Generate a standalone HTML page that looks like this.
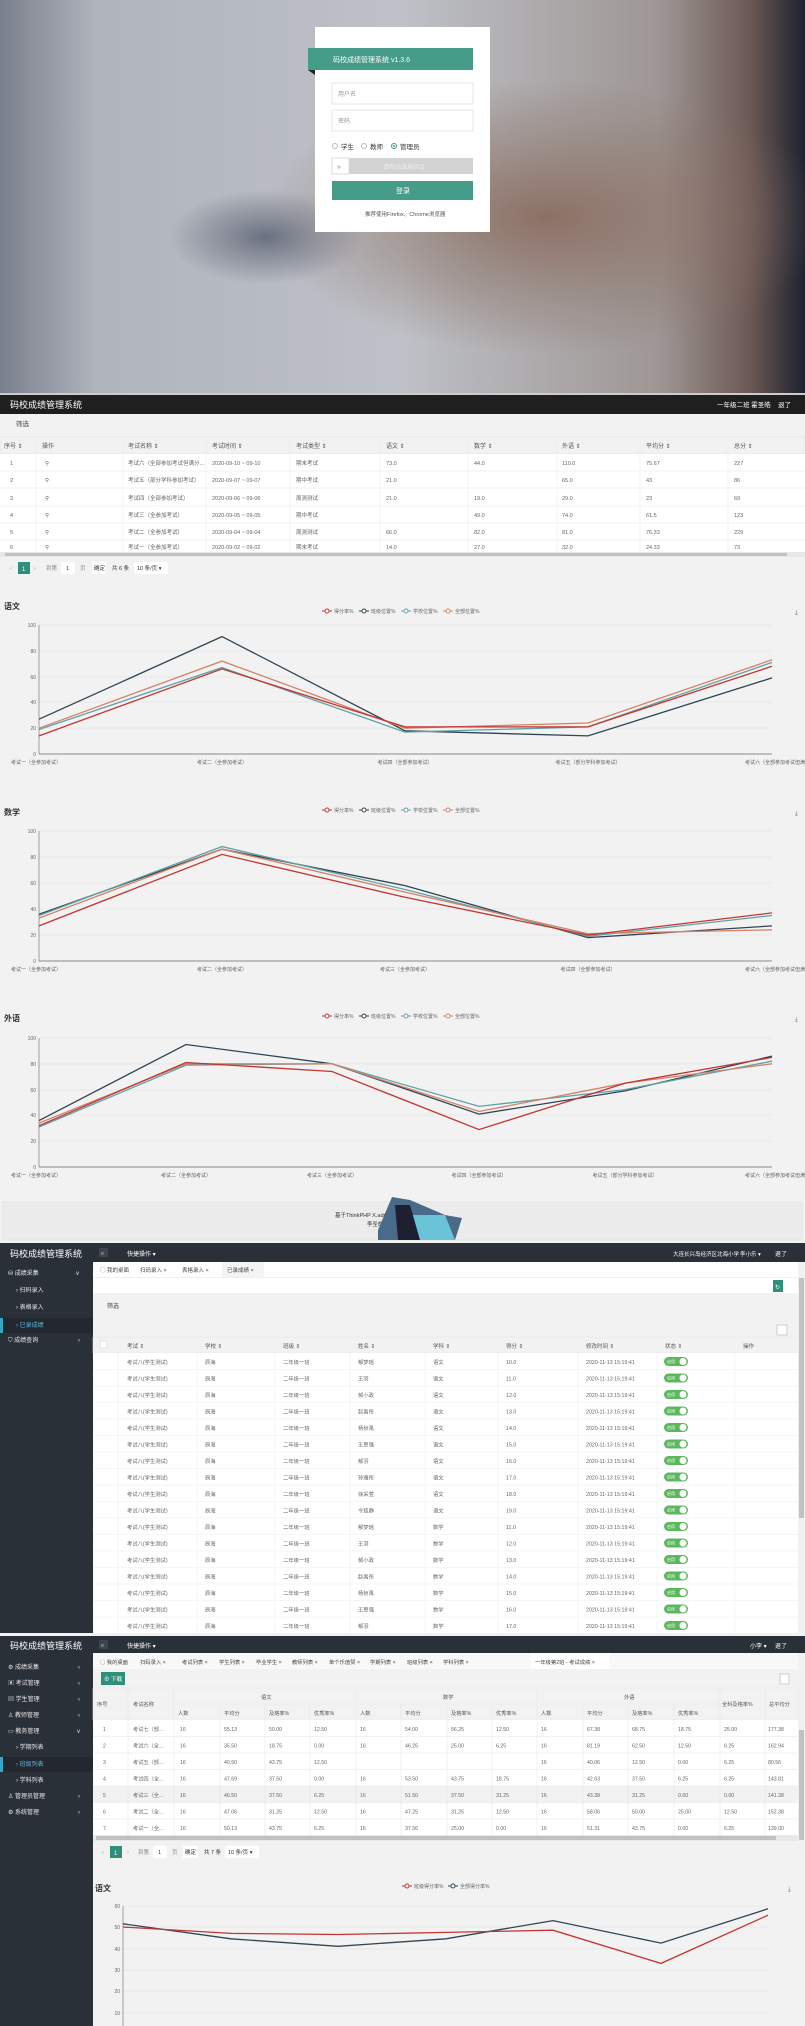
<!DOCTYPE html>
<html><head><meta charset="utf-8"><style>
html,body{margin:0;padding:0;width:805px;height:2026px;overflow:hidden;background:#f2f2f2}
svg{display:block}
text{font-family:"Liberation Sans","Noto Sans CJK SC",sans-serif}
</style></head><body>
<svg width="805" height="2026" viewBox="0 0 805 2026" xmlns="http://www.w3.org/2000/svg">
<defs>
<radialGradient id="g1" cx="0.68" cy="0.55" r="0.35"><stop offset="0" stop-color="#8f7468"/><stop offset="1" stop-color="#8f7468" stop-opacity="0"/></radialGradient>
<radialGradient id="g2" cx="0.33" cy="0.6" r="0.12"><stop offset="0" stop-color="#6e7484"/><stop offset="1" stop-color="#6e7484" stop-opacity="0"/></radialGradient>
<linearGradient id="g3" x1="0" x2="1"><stop offset="0" stop-color="#7d8290"/><stop offset="0.12" stop-color="#b4b8c0"/><stop offset="0.5" stop-color="#c2c5cb"/><stop offset="0.82" stop-color="#a29a98"/><stop offset="0.93" stop-color="#705c58"/><stop offset="1" stop-color="#1e2330"/></linearGradient>
</defs>
<!-- LOGIN -->
<rect x="0" y="0" width="805" height="395" fill="url(#g3)"/>
<rect x="0" y="0" width="805" height="395" fill="url(#g1)"/>
<rect x="0" y="0" width="805" height="395" fill="url(#g2)"/>
<rect x="0" y="0" width="805" height="395" fill="#000" opacity="0.02"/>
<rect x="315" y="27" width="175" height="205" fill="#fff"/>
<rect x="308" y="48" width="165" height="22" fill="#459c88"/>
<polygon points="308,70 315,70 315,75" fill="#222"/>
<text x="333" y="62" font-size="7" fill="#fff">码校成绩管理系统 v1.3.6</text>
<rect x="332" y="83" width="141" height="21" fill="#fff" stroke="#e6e6e6"/>
<text x="338" y="96" font-size="6" fill="#999">用户名</text>
<rect x="332" y="110" width="141" height="21" fill="#fff" stroke="#e6e6e6"/>
<text x="338" y="123" font-size="6" fill="#999">密码</text>
<circle cx="335" cy="146" r="2.5" fill="none" stroke="#bbb"/><text x="341" y="149" font-size="6.5" fill="#333">学生</text>
<circle cx="364" cy="146" r="2.5" fill="none" stroke="#bbb"/><text x="370" y="149" font-size="6.5" fill="#333">教师</text>
<circle cx="394" cy="146" r="2.5" fill="none" stroke="#459c88"/><circle cx="394" cy="146" r="1" fill="#459c88"/><text x="400" y="149" font-size="6.5" fill="#333">管理员</text>
<rect x="332" y="158" width="141" height="16" fill="#d2d2d2"/>
<rect x="332" y="158" width="17" height="16" fill="#fff" stroke="#ddd"/>
<text x="337" y="169" font-size="7" fill="#888">»</text>
<text x="383" y="169" font-size="6" fill="#eee">请拖动滑块验证</text>
<rect x="332" y="181" width="141" height="19" fill="#459c88"/>
<text x="396" y="193" font-size="7" fill="#fff">登录</text>
<text x="365" y="216" font-size="5.5" fill="#555">推荐使用Firefox、Chrome浏览器</text>

<!-- SECTION 2 -->
<rect x="0" y="393" width="805" height="2" fill="#ccc"/>
<rect x="0" y="395" width="805" height="19" fill="#1f1f1f"/>
<text x="10" y="408" font-size="9" fill="#fff">码校成绩管理系统</text>
<text x="717" y="407" font-size="6.5" fill="#fff">一年级二班 霍圣皓</text>
<text x="778" y="407" font-size="6.5" fill="#fff">退了</text>
<rect x="0" y="414" width="805" height="18" fill="#f2f2f2"/>
<text x="16" y="426" font-size="6.5" fill="#444">筛选</text>
<rect x="0" y="437" width="805" height="17" fill="#f2f2f2" stroke="#e6e6e6"/>
<g font-size="6" fill="#555">
<text x="4" y="448">序号 ⇕</text><text x="42" y="448">操作</text><text x="128" y="448">考试名称 ⇕</text><text x="212" y="448">考试时间 ⇕</text><text x="296" y="448">考试类型 ⇕</text><text x="386" y="448">语文 ⇕</text><text x="474" y="448">数学 ⇕</text><text x="562" y="448">外语 ⇕</text><text x="646" y="448">平均分 ⇕</text><text x="734" y="448">总分 ⇕</text>
</g>
<rect x="0" y="454" width="805" height="98" fill="#fff"/>
<g stroke="#eee" stroke-width="0.7">
<line x1="0" y1="471" x2="805" y2="471"/><line x1="0" y1="488" x2="805" y2="488"/><line x1="0" y1="506" x2="805" y2="506"/><line x1="0" y1="523" x2="805" y2="523"/><line x1="0" y1="540" x2="805" y2="540"/>
<line x1="36" y1="437" x2="36" y2="552"/><line x1="123" y1="437" x2="123" y2="552"/><line x1="206" y1="437" x2="206" y2="552"/><line x1="290" y1="437" x2="290" y2="552"/><line x1="380" y1="437" x2="380" y2="552"/><line x1="468" y1="437" x2="468" y2="552"/><line x1="557" y1="437" x2="557" y2="552"/><line x1="640" y1="437" x2="640" y2="552"/><line x1="728" y1="437" x2="728" y2="552"/>
</g>
<g font-size="5.5" fill="#666">
<text x="10" y="465">1</text><text x="45" y="465">⚲</text><text x="128" y="465">考试六（全部参加考试但满分...</text><text x="212" y="465">2020-09-10 ~ 09-10</text><text x="296" y="465">期末考试</text><text x="386" y="465">73.0</text><text x="474" y="465">44.0</text><text x="562" y="465">110.0</text><text x="646" y="465">75.67</text><text x="734" y="465">227</text>
<text x="10" y="482">2</text><text x="45" y="482">⚲</text><text x="128" y="482">考试五（部分学科参加考试）</text><text x="212" y="482">2020-09-07 ~ 09-07</text><text x="296" y="482">期中考试</text><text x="386" y="482">21.0</text><text x="562" y="482">65.0</text><text x="646" y="482">43</text><text x="734" y="482">86</text>
<text x="10" y="500">3</text><text x="45" y="500">⚲</text><text x="128" y="500">考试四（全部参加考试）</text><text x="212" y="500">2020-09-06 ~ 09-06</text><text x="296" y="500">周测测试</text><text x="386" y="500">21.0</text><text x="474" y="500">19.0</text><text x="562" y="500">29.0</text><text x="646" y="500">23</text><text x="734" y="500">69</text>
<text x="10" y="517">4</text><text x="45" y="517">⚲</text><text x="128" y="517">考试三（全参加考试）</text><text x="212" y="517">2020-09-05 ~ 09-05</text><text x="296" y="517">期中考试</text><text x="474" y="517">49.0</text><text x="562" y="517">74.0</text><text x="646" y="517">61.5</text><text x="734" y="517">123</text>
<text x="10" y="534">5</text><text x="45" y="534">⚲</text><text x="128" y="534">考试二（全参加考试）</text><text x="212" y="534">2020-09-04 ~ 09-04</text><text x="296" y="534">周测测试</text><text x="386" y="534">66.0</text><text x="474" y="534">82.0</text><text x="562" y="534">81.0</text><text x="646" y="534">76.33</text><text x="734" y="534">229</text>
<text x="10" y="549">6</text><text x="45" y="549">⚲</text><text x="128" y="549">考试一（全参加考试）</text><text x="212" y="549">2020-09-02 ~ 09-02</text><text x="296" y="549">期末考试</text><text x="386" y="549">14.0</text><text x="474" y="549">27.0</text><text x="562" y="549">32.0</text><text x="646" y="549">24.33</text><text x="734" y="549">73</text>
</g>
<rect x="0" y="552" width="805" height="5" fill="#e8e8e8"/><rect x="5" y="553" width="782" height="3" fill="#c1c1c1"/>
<rect x="18" y="562" width="12" height="12" fill="#2f8f7a"/><text x="22" y="571" font-size="6" fill="#fff">1</text>
<g font-size="5.5" fill="#888"><text x="10" y="570">‹</text><text x="34" y="570">›</text><text x="46" y="570">到第</text><rect x="61" y="562" width="14" height="12" fill="#fff"/><text x="66" y="570" fill="#333">1</text><text x="80" y="570">页</text><rect x="92" y="562" width="14" height="12" fill="#fff"/><text x="94" y="570" fill="#333">确定</text><text x="112" y="570" fill="#333">共 6 条</text><rect x="134" y="562" width="34" height="12" fill="#fff"/><text x="137" y="570" fill="#333">10 条/页 ▾</text></g>

<!-- CHART 1 -->
<g font-size="6" fill="#666">
<text x="4" y="609" font-size="8" font-weight="bold" fill="#333">语文</text>
<g transform="translate(322,613)"><line x1="0" y1="-2" x2="10" y2="-2" stroke="#c23531"/><circle cx="5" cy="-2" r="2" fill="#fff" stroke="#c23531"/><text x="12" y="0" font-size="5">得分率%</text>
<line x1="37" y1="-2" x2="47" y2="-2" stroke="#2f4554"/><circle cx="42" cy="-2" r="2" fill="#fff" stroke="#2f4554"/><text x="49" y="0" font-size="5">班级位置%</text>
<line x1="79" y1="-2" x2="89" y2="-2" stroke="#61a0a8"/><circle cx="84" cy="-2" r="2" fill="#fff" stroke="#61a0a8"/><text x="91" y="0" font-size="5">学校位置%</text>
<line x1="121" y1="-2" x2="131" y2="-2" stroke="#d48265"/><circle cx="126" cy="-2" r="2" fill="#fff" stroke="#d48265"/><text x="133" y="0" font-size="5">全部位置%</text></g>
<text x="795" y="614">⤓</text>
<g stroke="#ddd" stroke-width="0.6"><line x1="39" y1="625" x2="772" y2="625"/><line x1="39" y1="651" x2="772" y2="651"/><line x1="39" y1="677" x2="772" y2="677"/><line x1="39" y1="702" x2="772" y2="702"/><line x1="39" y1="728" x2="772" y2="728"/></g>
<line x1="39" y1="625" x2="39" y2="754" stroke="#666" stroke-width="0.6"/><line x1="39" y1="754" x2="772" y2="754" stroke="#666" stroke-width="0.8"/>
<g font-size="5" text-anchor="end"><text x="36" y="627">100</text><text x="36" y="653">80</text><text x="36" y="679">60</text><text x="36" y="704">40</text><text x="36" y="730">20</text><text x="36" y="756">0</text></g>
<g font-size="5" text-anchor="middle"><text x="36" y="764">考试一（全参加考试）</text><text x="222" y="764">考试二（全参加考试）</text><text x="405" y="764">考试四（全部参加考试）</text><text x="588" y="764">考试五（部分学科参加考试）</text><text x="780" y="764">考试六（全部参加考试但满分不</text></g>
<g fill="none" stroke-width="1.3">
<polyline stroke="#2f4554" points="39,719.2 222,636.6 405,730.8 588,735.9 772,677.9"/>
<polyline stroke="#61a0a8" points="39,729.5 222,667.6 405,732.1 588,726.9 772,662.4"/>
<polyline stroke="#d48265" points="39,728.2 222,661.1 405,728.2 588,723 772,659.8"/>
<polyline stroke="#c23531" points="39,735.9 222,668.9 405,726.9 588,726.9 772,666.3"/>
</g>

<!-- CHART 2 -->
<text x="4" y="815" font-size="8" font-weight="bold" fill="#333">数学</text>
<g transform="translate(322,812)"><line x1="0" y1="-2" x2="10" y2="-2" stroke="#c23531"/><circle cx="5" cy="-2" r="2" fill="#fff" stroke="#c23531"/><text x="12" y="0" font-size="5">得分率%</text>
<line x1="37" y1="-2" x2="47" y2="-2" stroke="#2f4554"/><circle cx="42" cy="-2" r="2" fill="#fff" stroke="#2f4554"/><text x="49" y="0" font-size="5">班级位置%</text>
<line x1="79" y1="-2" x2="89" y2="-2" stroke="#61a0a8"/><circle cx="84" cy="-2" r="2" fill="#fff" stroke="#61a0a8"/><text x="91" y="0" font-size="5">学校位置%</text>
<line x1="121" y1="-2" x2="131" y2="-2" stroke="#d48265"/><circle cx="126" cy="-2" r="2" fill="#fff" stroke="#d48265"/><text x="133" y="0" font-size="5">全部位置%</text></g>
<text x="795" y="815">⤓</text>
<g stroke="#ddd" stroke-width="0.6"><line x1="39" y1="831" x2="772" y2="831"/><line x1="39" y1="857" x2="772" y2="857"/><line x1="39" y1="883" x2="772" y2="883"/><line x1="39" y1="909" x2="772" y2="909"/><line x1="39" y1="935" x2="772" y2="935"/></g>
<line x1="39" y1="831" x2="39" y2="961" stroke="#666" stroke-width="0.6"/><line x1="39" y1="961" x2="772" y2="961" stroke="#666" stroke-width="0.8"/>
<g font-size="5" text-anchor="end"><text x="36" y="833">100</text><text x="36" y="859">80</text><text x="36" y="885">60</text><text x="36" y="911">40</text><text x="36" y="937">20</text><text x="36" y="963">0</text></g>
<g font-size="5" text-anchor="middle"><text x="36" y="971">考试一（全参加考试）</text><text x="222" y="971">考试二（全参加考试）</text><text x="405" y="971">考试三（全参加考试）</text><text x="588" y="971">考试四（全部参加考试）</text><text x="780" y="971">考试六（全部参加考试但满分不</text></g>
<g fill="none" stroke-width="1.3">
<polyline stroke="#2f4554" points="39,914.2 222,849.2 405,885.6 588,937.6 772,925.9"/>
<polyline stroke="#61a0a8" points="39,915.5 222,846.6 405,889.5 588,936.3 772,915.5"/>
<polyline stroke="#d48265" points="39,918.1 222,849.2 405,892.1 588,933.7 772,929.8"/>
<polyline stroke="#c23531" points="39,925.9 222,854.4 405,897.3 588,935 772,912.9"/>
</g>

<!-- CHART 3 -->
<text x="4" y="1021" font-size="8" font-weight="bold" fill="#333">外语</text>
<g transform="translate(322,1018)"><line x1="0" y1="-2" x2="10" y2="-2" stroke="#c23531"/><circle cx="5" cy="-2" r="2" fill="#fff" stroke="#c23531"/><text x="12" y="0" font-size="5">得分率%</text>
<line x1="37" y1="-2" x2="47" y2="-2" stroke="#2f4554"/><circle cx="42" cy="-2" r="2" fill="#fff" stroke="#2f4554"/><text x="49" y="0" font-size="5">班级位置%</text>
<line x1="79" y1="-2" x2="89" y2="-2" stroke="#61a0a8"/><circle cx="84" cy="-2" r="2" fill="#fff" stroke="#61a0a8"/><text x="91" y="0" font-size="5">学校位置%</text>
<line x1="121" y1="-2" x2="131" y2="-2" stroke="#d48265"/><circle cx="126" cy="-2" r="2" fill="#fff" stroke="#d48265"/><text x="133" y="0" font-size="5">全部位置%</text></g>
<text x="795" y="1021">⤓</text>
<g stroke="#ddd" stroke-width="0.6"><line x1="39" y1="1038" x2="772" y2="1038"/><line x1="39" y1="1064" x2="772" y2="1064"/><line x1="39" y1="1090" x2="772" y2="1090"/><line x1="39" y1="1115" x2="772" y2="1115"/><line x1="39" y1="1141" x2="772" y2="1141"/></g>
<line x1="39" y1="1038" x2="39" y2="1167" stroke="#666" stroke-width="0.6"/><line x1="39" y1="1167" x2="772" y2="1167" stroke="#666" stroke-width="0.8"/>
<g font-size="5" text-anchor="end"><text x="36" y="1040">100</text><text x="36" y="1066">80</text><text x="36" y="1092">60</text><text x="36" y="1117">40</text><text x="36" y="1143">20</text><text x="36" y="1169">0</text></g>
<g font-size="5" text-anchor="middle"><text x="36" y="1177">考试一（全参加考试）</text><text x="186" y="1177">考试二（全参加考试）</text><text x="332" y="1177">考试三（全参加考试）</text><text x="479" y="1177">考试四（全部参加考试）</text><text x="625" y="1177">考试五（部分学科参加考试）</text><text x="780" y="1177">考试六（全部参加考试但满分不</text></g>
<g fill="none" stroke-width="1.3">
<polyline stroke="#2f4554" points="39,1120.6 186,1044.5 332,1063.8 479,1114.1 625,1090.9 772,1056.1"/>
<polyline stroke="#61a0a8" points="39,1127 186,1065.1 332,1063.8 479,1106.4 625,1089.6 772,1061.2"/>
<polyline stroke="#d48265" points="39,1123.1 186,1063.8 332,1063.8 479,1111.5 625,1083.2 772,1063.8"/>
<polyline stroke="#c23531" points="39,1125.7 186,1062.5 332,1071.5 479,1129.6 625,1083.2 772,1057.4"/>
</g>
</g>
<rect x="3" y="1202" width="799" height="38" fill="#ececec" stroke="#e4e4e4"/>
<text x="335" y="1217" font-size="5.5" fill="#333">基于ThinkPHP X.admin开发 感谢开源作者</text>
<text x="367" y="1226" font-size="5.5" fill="#333">李圣皓</text>
<polygon points="378,1230 392,1197 410,1200 445,1215 462,1218 455,1240 378,1240" fill="#4a6a8a"/>
<polygon points="410,1215 445,1215 455,1240 420,1240" fill="#6bc3d8"/>
<polygon points="395,1205 410,1205 420,1240 398,1240" fill="#1c2030"/>

<!-- SECTION 3 -->
<rect x="0" y="1243" width="805" height="19" fill="#2a3038"/>
<text x="10" y="1257" font-size="9" fill="#fff">码校成绩管理系统</text>
<rect x="99" y="1248" width="9" height="9" fill="#3d444e"/><text x="101" y="1255" font-size="5" fill="#ccc">≡</text>
<text x="127" y="1256" font-size="6" fill="#fff">快捷操作 ▾</text>
<text x="673" y="1256" font-size="5.5" fill="#fff">大连长兴岛经济区北海小学</text><text x="740" y="1256" font-size="5.5" fill="#fff">李小乐 ▾</text><text x="775" y="1256" font-size="6" fill="#fff">退了</text>
<rect x="0" y="1262" width="93" height="371" fill="#2a3038"/>
<g font-size="6" fill="#e8e8e8">
<text x="8" y="1275">⛁  成绩采集</text><text x="76" y="1275">v</text>
<text x="16" y="1292">›  扫码录入</text><text x="16" y="1309">›  表格录入</text>
<rect x="0" y="1318" width="93" height="15" fill="#232830"/><rect x="0" y="1318" width="3" height="15" fill="#35a8c8"/>
<text x="16" y="1327" fill="#5fb8d8">›  已录成绩</text>
<text x="8" y="1342">⛉  成绩查询</text><text x="78" y="1342">‹</text>
</g>
<rect x="93" y="1262" width="705" height="15" fill="#fff"/>
<rect x="222" y="1262" width="42" height="15" fill="#f4f4f4"/>
<g font-size="5.5" fill="#444"><text x="100" y="1272">◯ 我的桌面</text><text x="140" y="1272">扫码录入 ×</text><text x="182" y="1272">表格录入 ×</text><text x="227" y="1272">已录成绩 ×</text></g>
<rect x="93" y="1277" width="705" height="16" fill="#fff"/>
<rect x="93" y="1277" width="705" height="1" fill="#f0f0f0"/>
<rect x="773" y="1280" width="10" height="12" fill="#2f8f7a"/><text x="775" y="1289" font-size="6" fill="#fff">↻</text>
<rect x="93" y="1293" width="705" height="44" fill="#f2f2f2"/>
<text x="107" y="1308" font-size="6" fill="#444">筛选</text>
<rect x="777" y="1325" width="10" height="10" fill="#fff" stroke="#ccc"/>
<rect x="93" y="1337" width="705" height="16" fill="#f2f2f2" stroke="#e6e6e6" stroke-width="0.5"/>
<rect x="798" y="1262" width="7" height="371" fill="#f1f1f1"/><rect x="799" y="1278" width="5" height="240" fill="#c1c1c1"/>
<g font-size="5.5" fill="#555"><rect x="100" y="1341" width="7" height="7" fill="#fff" stroke="#ccc" stroke-width="0.5"/><text x="127" y="1348">考试 ⇕</text><text x="205" y="1348">学校 ⇕</text><text x="283" y="1348">班级 ⇕</text><text x="358" y="1348">姓名 ⇕</text><text x="433" y="1348">学科 ⇕</text><text x="506" y="1348">得分 ⇕</text><text x="586" y="1348">修改时间 ⇕</text><text x="665" y="1348">状态 ⇕</text><text x="743" y="1348">操作</text></g>
<rect x="93" y="1353" width="705" height="280" fill="#fff"/>
<g stroke="#eee" stroke-width="0.6">
<line x1="93" y1="1369.5" x2="798" y2="1369.5"/><line x1="93" y1="1386" x2="798" y2="1386"/><line x1="93" y1="1402.5" x2="798" y2="1402.5"/><line x1="93" y1="1419" x2="798" y2="1419"/><line x1="93" y1="1435.5" x2="798" y2="1435.5"/><line x1="93" y1="1452" x2="798" y2="1452"/><line x1="93" y1="1468.5" x2="798" y2="1468.5"/><line x1="93" y1="1485" x2="798" y2="1485"/><line x1="93" y1="1501.5" x2="798" y2="1501.5"/><line x1="93" y1="1518" x2="798" y2="1518"/><line x1="93" y1="1534.5" x2="798" y2="1534.5"/><line x1="93" y1="1551" x2="798" y2="1551"/><line x1="93" y1="1567.5" x2="798" y2="1567.5"/><line x1="93" y1="1584" x2="798" y2="1584"/><line x1="93" y1="1600.5" x2="798" y2="1600.5"/><line x1="93" y1="1617" x2="798" y2="1617"/>
<line x1="118" y1="1337" x2="118" y2="1633"/><line x1="197" y1="1337" x2="197" y2="1633"/><line x1="275" y1="1337" x2="275" y2="1633"/><line x1="350" y1="1337" x2="350" y2="1633"/><line x1="425" y1="1337" x2="425" y2="1633"/><line x1="498" y1="1337" x2="498" y2="1633"/><line x1="578" y1="1337" x2="578" y2="1633"/><line x1="657" y1="1337" x2="657" y2="1633"/><line x1="735" y1="1337" x2="735" y2="1633"/>
</g>
<g font-size="5.3" fill="#666">
<text y="1364"><tspan x="127">考试八(学生测试)</tspan><tspan x="205">辰海</tspan><tspan x="283">二年级一班</tspan><tspan x="358">郁梦瑶</tspan><tspan x="433">语文</tspan><tspan x="506">10.0</tspan><tspan x="586">2020-11-13 15:19:41</tspan></text>
<text y="1380.5"><tspan x="127">考试八(学生测试)</tspan><tspan x="205">辰海</tspan><tspan x="283">二年级一班</tspan><tspan x="358">王羽</tspan><tspan x="433">语文</tspan><tspan x="506">11.0</tspan><tspan x="586">2020-11-13 15:19:41</tspan></text>
<text y="1397"><tspan x="127">考试八(学生测试)</tspan><tspan x="205">辰海</tspan><tspan x="283">二年级一班</tspan><tspan x="358">郝小政</tspan><tspan x="433">语文</tspan><tspan x="506">12.0</tspan><tspan x="586">2020-11-13 15:19:41</tspan></text>
<text y="1413.5"><tspan x="127">考试八(学生测试)</tspan><tspan x="205">辰海</tspan><tspan x="283">二年级一班</tspan><tspan x="358">赵禹彤</tspan><tspan x="433">语文</tspan><tspan x="506">13.0</tspan><tspan x="586">2020-11-13 15:19:41</tspan></text>
<text y="1430"><tspan x="127">考试八(学生测试)</tspan><tspan x="205">辰海</tspan><tspan x="283">二年级一班</tspan><tspan x="358">杨桢禹</tspan><tspan x="433">语文</tspan><tspan x="506">14.0</tspan><tspan x="586">2020-11-13 15:19:41</tspan></text>
<text y="1446.5"><tspan x="127">考试八(学生测试)</tspan><tspan x="205">辰海</tspan><tspan x="283">二年级一班</tspan><tspan x="358">王思强</tspan><tspan x="433">语文</tspan><tspan x="506">15.0</tspan><tspan x="586">2020-11-13 15:19:41</tspan></text>
<text y="1463"><tspan x="127">考试八(学生测试)</tspan><tspan x="205">辰海</tspan><tspan x="283">二年级一班</tspan><tspan x="358">郁羽</tspan><tspan x="433">语文</tspan><tspan x="506">16.0</tspan><tspan x="586">2020-11-13 15:19:41</tspan></text>
<text y="1479.5"><tspan x="127">考试八(学生测试)</tspan><tspan x="205">辰海</tspan><tspan x="283">二年级一班</tspan><tspan x="358">孙雅彤</tspan><tspan x="433">语文</tspan><tspan x="506">17.0</tspan><tspan x="586">2020-11-13 15:19:41</tspan></text>
<text y="1496"><tspan x="127">考试八(学生测试)</tspan><tspan x="205">辰海</tspan><tspan x="283">二年级一班</tspan><tspan x="358">徐采萱</tspan><tspan x="433">语文</tspan><tspan x="506">18.0</tspan><tspan x="586">2020-11-13 15:19:41</tspan></text>
<text y="1512.5"><tspan x="127">考试八(学生测试)</tspan><tspan x="205">辰海</tspan><tspan x="283">二年级一班</tspan><tspan x="358">令狐静</tspan><tspan x="433">语文</tspan><tspan x="506">19.0</tspan><tspan x="586">2020-11-13 15:19:41</tspan></text>
<text y="1529"><tspan x="127">考试八(学生测试)</tspan><tspan x="205">辰海</tspan><tspan x="283">二年级一班</tspan><tspan x="358">郁梦瑶</tspan><tspan x="433">数学</tspan><tspan x="506">11.0</tspan><tspan x="586">2020-11-13 15:19:41</tspan></text>
<text y="1545.5"><tspan x="127">考试八(学生测试)</tspan><tspan x="205">辰海</tspan><tspan x="283">二年级一班</tspan><tspan x="358">王羽</tspan><tspan x="433">数学</tspan><tspan x="506">12.0</tspan><tspan x="586">2020-11-13 15:19:41</tspan></text>
<text y="1562"><tspan x="127">考试八(学生测试)</tspan><tspan x="205">辰海</tspan><tspan x="283">二年级一班</tspan><tspan x="358">郝小政</tspan><tspan x="433">数学</tspan><tspan x="506">13.0</tspan><tspan x="586">2020-11-13 15:19:41</tspan></text>
<text y="1578.5"><tspan x="127">考试八(学生测试)</tspan><tspan x="205">辰海</tspan><tspan x="283">二年级一班</tspan><tspan x="358">赵禹彤</tspan><tspan x="433">数学</tspan><tspan x="506">14.0</tspan><tspan x="586">2020-11-13 15:19:41</tspan></text>
<text y="1595"><tspan x="127">考试八(学生测试)</tspan><tspan x="205">辰海</tspan><tspan x="283">二年级一班</tspan><tspan x="358">杨桢禹</tspan><tspan x="433">数学</tspan><tspan x="506">15.0</tspan><tspan x="586">2020-11-13 15:19:41</tspan></text>
<text y="1611.5"><tspan x="127">考试八(学生测试)</tspan><tspan x="205">辰海</tspan><tspan x="283">二年级一班</tspan><tspan x="358">王思强</tspan><tspan x="433">数学</tspan><tspan x="506">16.0</tspan><tspan x="586">2020-11-13 15:19:41</tspan></text>
<text y="1628"><tspan x="127">考试八(学生测试)</tspan><tspan x="205">辰海</tspan><tspan x="283">二年级一班</tspan><tspan x="358">郁羽</tspan><tspan x="433">数学</tspan><tspan x="506">17.0</tspan><tspan x="586">2020-11-13 15:19:41</tspan></text>
</g>
<g id="tg">
<g fill="#5cb85c"><rect x="664" y="1357" width="24" height="9" rx="4.5"/><rect x="664" y="1373.5" width="24" height="9" rx="4.5"/><rect x="664" y="1390" width="24" height="9" rx="4.5"/><rect x="664" y="1406.5" width="24" height="9" rx="4.5"/><rect x="664" y="1423" width="24" height="9" rx="4.5"/><rect x="664" y="1439.5" width="24" height="9" rx="4.5"/><rect x="664" y="1456" width="24" height="9" rx="4.5"/><rect x="664" y="1472.5" width="24" height="9" rx="4.5"/><rect x="664" y="1489" width="24" height="9" rx="4.5"/><rect x="664" y="1505.5" width="24" height="9" rx="4.5"/><rect x="664" y="1522" width="24" height="9" rx="4.5"/><rect x="664" y="1538.5" width="24" height="9" rx="4.5"/><rect x="664" y="1555" width="24" height="9" rx="4.5"/><rect x="664" y="1571.5" width="24" height="9" rx="4.5"/><rect x="664" y="1588" width="24" height="9" rx="4.5"/><rect x="664" y="1604.5" width="24" height="9" rx="4.5"/><rect x="664" y="1621" width="24" height="9" rx="4.5"/></g>
<g fill="#fff"><circle cx="683" cy="1361.5" r="3.5"/><circle cx="683" cy="1378" r="3.5"/><circle cx="683" cy="1394.5" r="3.5"/><circle cx="683" cy="1411" r="3.5"/><circle cx="683" cy="1427.5" r="3.5"/><circle cx="683" cy="1444" r="3.5"/><circle cx="683" cy="1460.5" r="3.5"/><circle cx="683" cy="1477" r="3.5"/><circle cx="683" cy="1493.5" r="3.5"/><circle cx="683" cy="1510" r="3.5"/><circle cx="683" cy="1526.5" r="3.5"/><circle cx="683" cy="1543" r="3.5"/><circle cx="683" cy="1559.5" r="3.5"/><circle cx="683" cy="1576" r="3.5"/><circle cx="683" cy="1592.5" r="3.5"/><circle cx="683" cy="1609" r="3.5"/><circle cx="683" cy="1625.5" r="3.5"/></g>
</g>
<g font-size="4" fill="#fff"><text x="667" y="1363">启用</text><text x="667" y="1379.5">启用</text><text x="667" y="1396">启用</text><text x="667" y="1412.5">启用</text><text x="667" y="1429">启用</text><text x="667" y="1445.5">启用</text><text x="667" y="1462">启用</text><text x="667" y="1478.5">启用</text><text x="667" y="1495">启用</text><text x="667" y="1511.5">启用</text><text x="667" y="1528">启用</text><text x="667" y="1544.5">启用</text><text x="667" y="1561">启用</text><text x="667" y="1577.5">启用</text><text x="667" y="1594">启用</text><text x="667" y="1610.5">启用</text><text x="667" y="1627">启用</text></g>

<!-- SECTION 4 -->
<rect x="0" y="1633" width="805" height="3" fill="#f2f2f2"/>
<rect x="0" y="1636" width="805" height="17" fill="#2a3038"/>
<text x="10" y="1649" font-size="9" fill="#fff">码校成绩管理系统</text>
<rect x="99" y="1640" width="9" height="9" fill="#3d444e"/><text x="101" y="1647" font-size="5" fill="#ccc">≡</text>
<text x="127" y="1648" font-size="6" fill="#fff">快捷操作 ▾</text>
<text x="750" y="1648" font-size="6" fill="#fff">小李 ▾</text><text x="775" y="1648" font-size="6" fill="#fff">退了</text>
<rect x="0" y="1653" width="93" height="373" fill="#2a3038"/>
<g font-size="6" fill="#e8e8e8">
<text x="8" y="1669">⚙  成绩采集</text><text x="78" y="1669">‹</text>
<text x="8" y="1685">▣  考试管理</text><text x="78" y="1685">‹</text>
<text x="8" y="1701">▤  学生管理</text><text x="78" y="1701">‹</text>
<text x="8" y="1717">♙  教师管理</text><text x="78" y="1717">‹</text>
<text x="8" y="1733">▭  教务管理</text><text x="77" y="1733">v</text>
<text x="16" y="1749">›  学期列表</text>
<rect x="0" y="1757" width="93" height="15" fill="#232830"/><rect x="0" y="1757" width="3" height="15" fill="#35a8c8"/>
<text x="16" y="1766" fill="#5fb8d8">›  班级列表</text>
<text x="16" y="1782">›  学科列表</text>
<text x="8" y="1798">♙  管理员管理</text><text x="78" y="1798">‹</text>
<text x="8" y="1814">⚙  系统管理</text><text x="78" y="1814">‹</text>
</g>
<rect x="93" y="1653" width="705" height="16" fill="#f8f8f8"/>
<rect x="531" y="1653" width="78" height="16" fill="#fff"/>
<g font-size="5.3" fill="#444"><text x="100" y="1664">◯ 我的桌面</text><text x="140" y="1664">扫码录入 ×</text><text x="182" y="1664">考试列表 ×</text><text x="219" y="1664">学生列表 ×</text><text x="256" y="1664">毕业学生 ×</text><text x="292" y="1664">教师列表 ×</text><text x="329" y="1664">单个乐值赞 ×</text><text x="370" y="1664">学期列表 ×</text><text x="407" y="1664">班级列表 ×</text><text x="443" y="1664">学科列表 ×</text><text x="535" y="1664">一年级第2班 - 考试成绩 ×</text></g>
<rect x="101" y="1672" width="24" height="13" fill="#2f8f7a"/><text x="104" y="1681" font-size="5.5" fill="#fff">⊕ 下载</text>
<rect x="780" y="1674" width="9" height="10" fill="#fff" stroke="#ccc"/>
<rect x="798" y="1669" width="7" height="190" fill="#f1f1f1"/><rect x="799" y="1730" width="5" height="110" fill="#c1c1c1"/>
<rect x="93" y="1688" width="705" height="32" fill="#f2f2f2" stroke="#e6e6e6" stroke-width="0.5"/>
<rect x="93" y="1720" width="705" height="115" fill="#fff"/>
<rect x="93" y="1786" width="705" height="16.5" fill="#f2f2f2"/>
<g stroke="#e6e6e6" stroke-width="0.6">
<line x1="174" y1="1704" x2="720" y2="1704"/>
<line x1="93" y1="1736.5" x2="798" y2="1736.5"/><line x1="93" y1="1753" x2="798" y2="1753"/><line x1="93" y1="1769.5" x2="798" y2="1769.5"/><line x1="93" y1="1786" x2="798" y2="1786"/><line x1="93" y1="1802.5" x2="798" y2="1802.5"/><line x1="93" y1="1819" x2="798" y2="1819"/>
<line x1="128" y1="1688" x2="128" y2="1835"/><line x1="174" y1="1688" x2="174" y2="1835"/><line x1="356" y1="1688" x2="356" y2="1835"/><line x1="537" y1="1688" x2="537" y2="1835"/><line x1="720" y1="1688" x2="720" y2="1835"/><line x1="765" y1="1688" x2="765" y2="1835"/>
<line x1="220" y1="1704" x2="220" y2="1835"/><line x1="265" y1="1704" x2="265" y2="1835"/><line x1="310" y1="1704" x2="310" y2="1835"/><line x1="401" y1="1704" x2="401" y2="1835"/><line x1="447" y1="1704" x2="447" y2="1835"/><line x1="492" y1="1704" x2="492" y2="1835"/><line x1="583" y1="1704" x2="583" y2="1835"/><line x1="628" y1="1704" x2="628" y2="1835"/><line x1="674" y1="1704" x2="674" y2="1835"/>
</g>
<g font-size="5.2" fill="#555">
<text x="97" y="1706">序号</text><text x="133" y="1706">考试名称</text><text x="261" y="1699">语文</text><text x="443" y="1699">数学</text><text x="624" y="1699">外语</text><text x="722" y="1706">全科及格率%</text><text x="769" y="1706">总平均分</text>
<text y="1715"><tspan x="178">人数</tspan><tspan x="224">平均分</tspan><tspan x="269">及格率%</tspan><tspan x="314">优秀率%</tspan><tspan x="360">人数</tspan><tspan x="405">平均分</tspan><tspan x="451">及格率%</tspan><tspan x="496">优秀率%</tspan><tspan x="541">人数</tspan><tspan x="587">平均分</tspan><tspan x="632">及格率%</tspan><tspan x="678">优秀率%</tspan></text>
</g>
<g font-size="5.2" fill="#666">
<text y="1731"><tspan x="103">1</tspan><tspan x="133">考试七（部…</tspan><tspan x="180">16</tspan><tspan x="224">55.13</tspan><tspan x="269">50.00</tspan><tspan x="314">12.50</tspan><tspan x="360">16</tspan><tspan x="405">54.00</tspan><tspan x="451">56.25</tspan><tspan x="496">12.50</tspan><tspan x="541">16</tspan><tspan x="587">67.38</tspan><tspan x="632">68.75</tspan><tspan x="678">18.75</tspan><tspan x="724">25.00</tspan><tspan x="768">177.38</tspan></text>
<text y="1747.5"><tspan x="103">2</tspan><tspan x="133">考试六（全…</tspan><tspan x="180">16</tspan><tspan x="224">35.50</tspan><tspan x="269">18.75</tspan><tspan x="314">0.00</tspan><tspan x="360">16</tspan><tspan x="405">46.25</tspan><tspan x="451">25.00</tspan><tspan x="496">6.25</tspan><tspan x="541">16</tspan><tspan x="587">81.19</tspan><tspan x="632">62.50</tspan><tspan x="678">12.50</tspan><tspan x="724">6.25</tspan><tspan x="768">162.94</tspan></text>
<text y="1764"><tspan x="103">3</tspan><tspan x="133">考试五（部…</tspan><tspan x="180">16</tspan><tspan x="224">40.50</tspan><tspan x="269">43.75</tspan><tspan x="314">12.50</tspan><tspan x="541">16</tspan><tspan x="587">40.06</tspan><tspan x="632">12.50</tspan><tspan x="678">0.00</tspan><tspan x="724">6.25</tspan><tspan x="768">80.56</tspan></text>
<text y="1780.5"><tspan x="103">4</tspan><tspan x="133">考试四（全…</tspan><tspan x="180">16</tspan><tspan x="224">47.69</tspan><tspan x="269">37.50</tspan><tspan x="314">0.00</tspan><tspan x="360">16</tspan><tspan x="405">53.50</tspan><tspan x="451">43.75</tspan><tspan x="496">18.75</tspan><tspan x="541">16</tspan><tspan x="587">42.63</tspan><tspan x="632">37.50</tspan><tspan x="678">6.25</tspan><tspan x="724">6.25</tspan><tspan x="768">143.81</tspan></text>
<text y="1797"><tspan x="103">5</tspan><tspan x="133">考试三（全…</tspan><tspan x="180">16</tspan><tspan x="224">46.50</tspan><tspan x="269">37.50</tspan><tspan x="314">6.25</tspan><tspan x="360">16</tspan><tspan x="405">51.50</tspan><tspan x="451">37.50</tspan><tspan x="496">31.25</tspan><tspan x="541">16</tspan><tspan x="587">43.38</tspan><tspan x="632">31.25</tspan><tspan x="678">0.00</tspan><tspan x="724">0.00</tspan><tspan x="768">141.38</tspan></text>
<text y="1813.5"><tspan x="103">6</tspan><tspan x="133">考试二（全…</tspan><tspan x="180">16</tspan><tspan x="224">47.06</tspan><tspan x="269">31.25</tspan><tspan x="314">12.50</tspan><tspan x="360">16</tspan><tspan x="405">47.25</tspan><tspan x="451">31.25</tspan><tspan x="496">12.50</tspan><tspan x="541">16</tspan><tspan x="587">58.06</tspan><tspan x="632">50.00</tspan><tspan x="678">25.00</tspan><tspan x="724">12.50</tspan><tspan x="768">152.38</tspan></text>
<text y="1830"><tspan x="103">7</tspan><tspan x="133">考试一（全…</tspan><tspan x="180">16</tspan><tspan x="224">50.13</tspan><tspan x="269">43.75</tspan><tspan x="314">6.25</tspan><tspan x="360">16</tspan><tspan x="405">37.56</tspan><tspan x="451">25.00</tspan><tspan x="496">0.00</tspan><tspan x="541">16</tspan><tspan x="587">51.31</tspan><tspan x="632">43.75</tspan><tspan x="678">0.00</tspan><tspan x="724">6.25</tspan><tspan x="768">139.00</tspan></text>
</g>
<rect x="93" y="1835" width="705" height="6" fill="#e8e8e8"/><rect x="96" y="1836" width="680" height="4" fill="#c1c1c1"/>
<rect x="110" y="1846" width="12" height="12" fill="#2f8f7a"/><text x="114" y="1855" font-size="6" fill="#fff">1</text>
<g font-size="5.5" fill="#888"><text x="102" y="1854">‹</text><text x="127" y="1854">›</text><text x="138" y="1854">到第</text><rect x="153" y="1846" width="14" height="12" fill="#fff"/><text x="158" y="1854" fill="#333">1</text><text x="172" y="1854">页</text><rect x="183" y="1846" width="15" height="12" fill="#fff"/><text x="185" y="1854" fill="#333">确定</text><text x="204" y="1854" fill="#333">共 7 条</text><rect x="225" y="1846" width="34" height="12" fill="#fff"/><text x="228" y="1854" fill="#333">10 条/页 ▾</text></g>
<text x="95" y="1891" font-size="8" font-weight="bold" fill="#333">语文</text>
<g transform="translate(402,1888)"><line x1="0" y1="-2" x2="10" y2="-2" stroke="#c23531"/><circle cx="5" cy="-2" r="2" fill="#fff" stroke="#c23531"/><text x="12" y="0" font-size="5" fill="#666">班级得分率%</text>
<line x1="46" y1="-2" x2="56" y2="-2" stroke="#2f4554"/><circle cx="51" cy="-2" r="2" fill="#fff" stroke="#2f4554"/><text x="58" y="0" font-size="5" fill="#666">全部得分率%</text></g>
<text x="788" y="1891" font-size="6" fill="#666">⤓</text>
<g stroke="#ddd" stroke-width="0.6"><line x1="123" y1="1906" x2="768" y2="1906"/><line x1="123" y1="1927" x2="768" y2="1927"/><line x1="123" y1="1949" x2="768" y2="1949"/><line x1="123" y1="1970" x2="768" y2="1970"/><line x1="123" y1="1991" x2="768" y2="1991"/><line x1="123" y1="2013" x2="768" y2="2013"/></g>
<line x1="123" y1="1906" x2="123" y2="2026" stroke="#666" stroke-width="0.6"/>
<g font-size="5" text-anchor="end" fill="#666"><text x="120" y="1908">60</text><text x="120" y="1929">50</text><text x="120" y="1951">40</text><text x="120" y="1972">30</text><text x="120" y="1993">20</text><text x="120" y="2015">10</text></g>
<g fill="none" stroke-width="1.3">
<polyline stroke="#2f4554" points="123,1923.8 231,1938.8 338,1946.3 446,1938.8 553,1920.6 661,1943.1 768,1908.8"/>
<polyline stroke="#c23531" points="123,1927 231,1933.4 338,1934.5 446,1932.4 553,1930.2 661,1963.4 768,1915.2"/>
</g>
</svg>
</body></html>
